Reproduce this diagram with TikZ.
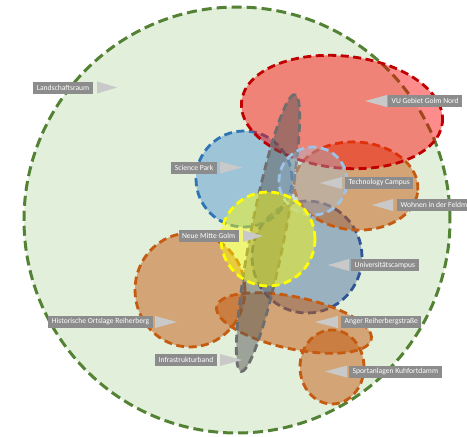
\documentclass[tikz,border=0pt]{standalone}
\usepackage{fontspec}
\setsansfont{Carlito}
\usepackage{xcolor}
\usetikzlibrary{positioning,calc}
\definecolor{cLand}{HTML}{E2EFDA}
\definecolor{cLandRim}{HTML}{548235}
\definecolor{cRed}{HTML}{FF0000}
\definecolor{cRedRim}{HTML}{C00000}
\definecolor{cOrange}{HTML}{C55A11}
\definecolor{cOrangeRim}{HTML}{C55A11}
\definecolor{cBlue}{HTML}{5B9BD5}
\definecolor{cBlueRim}{HTML}{2E75B6}
\definecolor{cUni}{HTML}{2F5597}
\definecolor{cSky}{HTML}{9DC3E6}
\definecolor{cYellow}{HTML}{FFFF00}
\definecolor{cBand}{HTML}{595959}
\definecolor{cBandRim}{HTML}{6E6E6E}
\definecolor{cTag}{HTML}{8C8C8C}
\definecolor{cPtr}{HTML}{C9C9C9}

\begin{document}
\begin{tikzpicture}[
  x=1pt, y=-1pt,
  zone/.style={line width=2.8pt, dash pattern=on 8pt off 4.5pt},
  tag/.style={fill=cTag, text=white, font=\sffamily\fontsize{7.6}{8}\selectfont, minimum height=12pt, inner xsep=3.5pt, inner ysep=1pt},
  ptr/.style={fill=cPtr},
]
\useasboundingbox (0,0) rectangle (467,437);

% ---------- landscape ----------
\draw[zone, line width=3pt, dash pattern=on 10pt off 5pt, draw=cLandRim, fill=cLand] (237,220) circle [radius=213pt];

% ---------- zones ----------
\draw[zone, draw=cUni, fill=cUni, fill opacity=0.4] (307,257) ellipse [x radius=55pt, y radius=56pt];
\draw[zone, draw=cOrangeRim, fill=cOrange, fill opacity=0.5] (190,290) ellipse [x radius=55pt, y radius=57pt];
\draw[zone, draw=cOrangeRim, fill=cOrange, fill opacity=0.5] (294,323) ellipse [x radius=79pt, y radius=26pt, rotate=-12];
\draw[zone, draw=cOrangeRim, fill=cOrange, fill opacity=0.5] (332,367) ellipse [x radius=32pt, y radius=37pt];
\draw[zone, draw=cBlueRim, fill=cBlue, fill opacity=0.5] (244,179) circle [radius=48pt];
\draw[zone, draw=cOrangeRim, fill=cOrange, fill opacity=0.5] (356,186) ellipse [x radius=62pt, y radius=44pt, rotate=-4];
\draw[zone, draw=cRedRim, fill=cRed, fill opacity=0.45] (342,112) ellipse [x radius=101pt, y radius=56pt, rotate=-6];
% infrastructure band
\draw[zone, draw=cBandRim, fill=cBand, fill opacity=0.5] (268,233) ellipse [x radius=141pt, y radius=17pt, rotate=79];
\draw[zone, draw=cSky, fill=cSky, fill opacity=0.35] (313,181) circle [radius=34pt];
\draw[zone, draw=cYellow, fill=cYellow, fill opacity=0.45] (268,239) circle [radius=47pt];

% ---------- labels pointing right ----------
\node[tag, anchor=east] (land) at (93,87.5) {Landschaftsraum};
\node[tag, anchor=east] (sci) at (217,167.5) {Science Park};
\node[tag, anchor=east] (mitte) at (239,236) {Neue Mitte Golm};
\node[tag, anchor=east] (hist) at (153,322) {Historische Ortslage Reiherberg};
\node[tag, anchor=east] (infra) at (217,360) {Infrastrukturband};
\fill[ptr] ($(land.east)+(4pt,6pt)$) -- ($(land.east)+(24pt,0pt)$) -- ($(land.east)+(4pt,-6pt)$) -- cycle;
\fill[ptr] ($(sci.east)+(3pt,6pt)$) -- ($(sci.east)+(25pt,0pt)$) -- ($(sci.east)+(3pt,-6pt)$) -- cycle;
\fill[ptr] ($(mitte.east)+(4pt,6pt)$) -- ($(mitte.east)+(24pt,0pt)$) -- ($(mitte.east)+(4pt,-6pt)$) -- cycle;
\fill[ptr] ($(hist.east)+(2pt,6pt)$) -- ($(hist.east)+(24pt,0pt)$) -- ($(hist.east)+(2pt,-6pt)$) -- cycle;
\fill[ptr] ($(infra.east)+(3pt,6pt)$) -- ($(infra.east)+(25pt,0pt)$) -- ($(infra.east)+(3pt,-6pt)$) -- cycle;

% ---------- labels pointing left ----------
\node[tag, anchor=west] (vu) at (388,101) {VU Gebiet Golm Nord};
\node[tag, anchor=west] (tech) at (345,183) {Technology Campus};
\node[tag, anchor=west] (wohn) at (397,205) {Wohnen in der Feldmark};
\node[tag, anchor=west] (uni) at (351,265) {Universitätscampus};
\node[tag, anchor=west] (anger) at (341,322) {Anger Reiherbergstraße};
\node[tag, anchor=west] (sport) at (349,371.5) {Sportanlagen Kuhfortdamm};
\fill[ptr] ($(vu.west)+(-1pt,6pt)$) -- ($(vu.west)+(-23pt,0pt)$) -- ($(vu.west)+(-1pt,-6pt)$) -- cycle;
\fill[ptr] ($(tech.west)+(-3pt,6pt)$) -- ($(tech.west)+(-25pt,0pt)$) -- ($(tech.west)+(-3pt,-6pt)$) -- cycle;
\fill[ptr] ($(wohn.west)+(-4pt,6pt)$) -- ($(wohn.west)+(-25pt,0pt)$) -- ($(wohn.west)+(-4pt,-6pt)$) -- cycle;
\fill[ptr] ($(uni.west)+(-2pt,6pt)$) -- ($(uni.west)+(-23pt,0pt)$) -- ($(uni.west)+(-2pt,-6pt)$) -- cycle;
\fill[ptr] ($(anger.west)+(-3pt,6pt)$) -- ($(anger.west)+(-26pt,0pt)$) -- ($(anger.west)+(-3pt,-6pt)$) -- cycle;
\fill[ptr] ($(sport.west)+(-2pt,6pt)$) -- ($(sport.west)+(-24pt,0pt)$) -- ($(sport.west)+(-2pt,-6pt)$) -- cycle;

\end{tikzpicture}
\end{document}
